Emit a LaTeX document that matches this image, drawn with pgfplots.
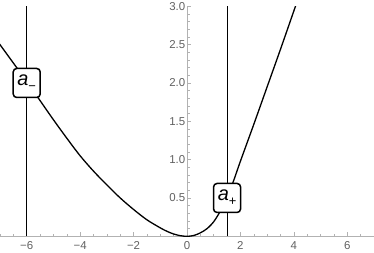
\documentclass[border=0pt]{standalone}
\usepackage{fontspec}
\setmainfont{Liberation Sans}
\usepackage{pgfplots}
\pgfplotsset{compat=1.18}
\begin{document}
\begin{tikzpicture}
\begin{axis}[
  scale only axis, width=374bp, height=230bp,
  xmin=-7, xmax=7, ymin=0, ymax=3,
  axis lines=middle, axis line style={-, black!30, line width=0.6bp},
  hide obscured x ticks=false, hide obscured y ticks=false,
  xtick={-6,-4,-2,0,2,4,6}, xticklabels={−6,−4,−2,0,2,4,6},
  ytick={0.5,1,1.5,2,2.5,3}, yticklabels={0.5,1.0,1.5,2.0,2.5,3.0},
  minor xtick={-7,-6.5,...,7}, minor ytick={0.1,0.2,...,3},
  tick align=inside,
  major tick length=4bp, minor tick length=2.5bp,
  every tick/.style={black!30, line width=0.5bp},
  tick label style={font=\fontsize{11.5}{13}\selectfont, text=black!62},
  xticklabel style={anchor=north, inner sep=0pt, yshift=-5bp},
  yticklabel style={anchor=east, inner sep=0pt, xshift=-1.5bp},
]
\coordinate (bl) at (rel axis cs:0,0);
\coordinate (tr) at (rel axis cs:1,1);
\addplot[black, line width=0.8bp] coordinates {(-6,0) (-6,3)};
\addplot[black, line width=0.8bp] coordinates {(1.5,0) (1.5,3)};
\addplot[black, line width=1.3bp, smooth, tension=0.5] coordinates {
(-7.2,2.60) (-7.0,2.50) (-6.5,2.26) (-6.0,2.02) (-5.5,1.77) (-5.0,1.52)
(-4.5,1.28) (-4.0,1.05) (-3.5,0.85) (-3.0,0.67) (-2.5,0.50) (-2.0,0.35)
(-1.5,0.215) (-1.0,0.11) (-0.75,0.065) (-0.5,0.03) (-0.25,0.008) (0,0)
(0.25,0.01) (0.5,0.045) (0.75,0.10) (1.0,0.19)
(1.25,0.33) (1.5,0.50) (1.75,0.73) (2.0,0.98) (2.5,1.46) (3.0,1.95)
(3.5,2.44) (4.06,3.0) (4.2,3.14)};
\node[draw=black, line width=1.5bp, rounded corners=3.5bp, fill=white,
  minimum width=27bp, minimum height=29bp, inner sep=1bp,
  font=\fontsize{20}{21}\selectfont] at (axis cs:-6,2.0)
  {\textit{a}\raisebox{-0.25em}{\fontsize{13}{13}\selectfont −}};
\node[draw=black, line width=1.5bp, rounded corners=3.5bp, fill=white,
  minimum width=27bp, minimum height=29bp, inner sep=1bp,
  font=\fontsize{20}{21}\selectfont] at (axis cs:1.5,0.5)
  {\textit{a}\raisebox{-0.25em}{\fontsize{13}{13}\selectfont +}};
\end{axis}
\pgfresetboundingbox
\path[use as bounding box] ([yshift=-16.7bp]bl) rectangle ([yshift=6.3bp]tr);
\end{tikzpicture}
\end{document}
